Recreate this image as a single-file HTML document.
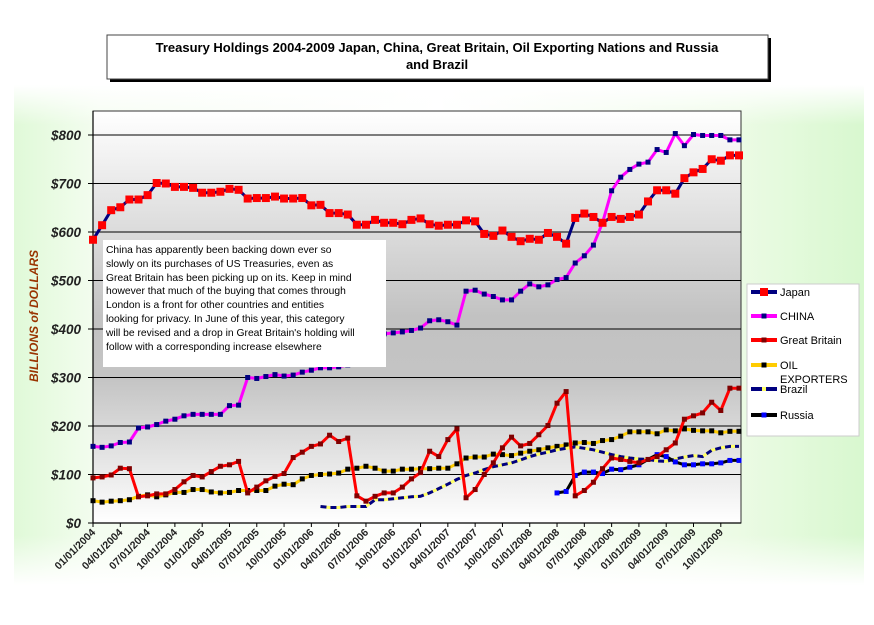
<!DOCTYPE html>
<html><head><meta charset="utf-8"><style>
html,body{margin:0;padding:0;background:#fff;}
body{width:874px;height:620px;overflow:hidden;font-family:"Liberation Sans",Arial,sans-serif;}
</style></head><body>
<svg id="chart" width="874" height="620" xmlns="http://www.w3.org/2000/svg" font-family="Liberation Sans, Arial, sans-serif">
<defs>
<linearGradient id="bgH" x1="0" x2="1" y1="0" y2="0">
<stop offset="0" stop-color="#e0f9d8"/><stop offset="0.1" stop-color="#f4fdf0"/><stop offset="0.5" stop-color="#ffffff"/><stop offset="0.85" stop-color="#ecfbe5"/><stop offset="1" stop-color="#d8f8cf"/>
</linearGradient>
<linearGradient id="bgV" x1="0" x2="0" y1="0" y2="1">
<stop offset="0" stop-color="#fff" stop-opacity="1"/><stop offset="0.08" stop-color="#fff" stop-opacity="0"/><stop offset="0.9" stop-color="#fff" stop-opacity="0"/><stop offset="1" stop-color="#fff" stop-opacity="1"/>
</linearGradient>
<linearGradient id="plotG" x1="0" x2="0" y1="0" y2="1">
<stop offset="0" stop-color="#ffffff"/><stop offset="0.5" stop-color="#c2c2c2"/><stop offset="0.65" stop-color="#c4c4c4"/><stop offset="1" stop-color="#ffffff"/>
</linearGradient>
</defs>
<rect x="14" y="85" width="850" height="500" fill="url(#bgH)"/>
<rect x="14" y="85" width="850" height="500" fill="url(#bgV)"/>
<rect x="110" y="38" width="661" height="44" fill="#000"/>
<rect x="107" y="35" width="661" height="44" fill="#fff" stroke="#444" stroke-width="1"/>
<text x="437" y="52" text-anchor="middle" font-size="13" font-weight="bold">Treasury Holdings 2004-2009  Japan, China, Great Britain, Oil Exporting Nations and Russia</text>
<text x="437" y="69" text-anchor="middle" font-size="13" font-weight="bold">and Brazil</text>
<rect x="93" y="111" width="648" height="412" fill="url(#plotG)" stroke="#333" stroke-width="1"/>
<g id="grid"></g>
<g id="xaxis"></g>
<g id="series"></g>
<text transform="translate(38,316) rotate(-90)" text-anchor="middle" font-size="12" font-weight="bold" font-style="italic" fill="#993300">BILLIONS of DOLLARS</text>
<g>
<rect x="103" y="240" width="283" height="127" fill="#fff"/>
<g font-size="10.3" fill="#000">
<text x="106" y="253">China has apparently been backing down ever so</text>
<text x="106" y="267">slowly on its purchases of US Treasuries, even as</text>
<text x="106" y="281">Great Britain has been picking up on its. Keep in mind</text>
<text x="106" y="294">however that much of the buying that comes through</text>
<text x="106" y="308">London is a front for other countries and entities</text>
<text x="106" y="322">looking for privacy. In June of this year, this category</text>
<text x="106" y="336">will be revised and a drop in Great Britain's holding will</text>
<text x="106" y="350">follow with a corresponding increase elsewhere</text>
</g></g>
<g>
<rect x="747" y="284" width="112" height="152" fill="#fff" stroke="#ccc"/>
<g id="legend" font-size="11"></g>
</g>
</svg>
<script>
const months = 72;
const yTicks = [0,100,200,300,400,500,600,700,800];
const xLabels = ["01/01/2004","04/01/2004","07/01/2004","10/01/2004","01/01/2005","04/01/2005","07/01/2005","10/01/2005","01/01/2006","04/01/2006","07/01/2006","10/01/2006","01/01/2007","04/01/2007","07/01/2007","10/01/2007","01/01/2008","04/01/2008","07/01/2008","10/01/2008","01/01/2009","04/01/2009","07/01/2009","10/01/2009"];
const japan = [584,614,645,651,667,667,676,701,700,693,693,691,681,681,683,689,687,669,670,670,673,669,669,670,655,656,639,639,636,615,615,625,619,619,616,625,628,616,613,615,615,624,622,596,592,603,590,581,586,584,598,590,576,629,638,631,619,631,627,631,636,663,686,686,679,711,723,730,750,747,758,758];
const china = [158,156,159,166,167,196,198,203,210,214,221,224,224,224,224,242,243,300,298,302,306,303,305,311,315,320,320,322,326,336,347,362,390,392,394,397,402,417,419,415,408,478,480,472,467,460,460,478,493,487,491,502,506,536,551,573,619,685,713,729,740,744,770,764,803,778,801,799,799,799,790,790];
const britain = [93,95,99,113,112,54,56,60,60,69,85,98,95,106,117,120,127,62,74,87,96,102,135,146,158,163,181,168,175,56,45,55,62,62,74,91,104,148,137,172,194,52,69,100,124,155,177,159,164,182,201,247,271,56,67,84,112,134,131,127,124,131,137,151,165,214,221,227,249,232,278,278];
const oil = [46,43,45,46,48,55,58,54,58,63,63,69,69,64,62,63,67,67,67,67,76,80,79,91,98,100,101,103,111,113,117,113,107,107,111,111,112,112,113,113,122,134,136,136,142,141,139,144,148,151,155,158,161,165,166,164,170,172,179,188,188,188,184,192,190,194,191,190,190,186,189,189];
const brazilStart = 25;
const brazil = [34,32,32,34,34,34,48,48,50,52,54,55,62,71,80,90,98,103,110,116,120,124,130,137,142,146,151,154,157,154,151,146,141,137,134,132,131,128,127,132,136,139,137,150,155,158,158];
const russiaStart = 51;
const russia = [62,65,98,105,105,102,111,110,115,120,131,141,137,126,120,120,122,122,124,129,129];

const NS="http://www.w3.org/2000/svg";
const X0=93, X1=741, Y0=523, YT=135;
const xs = i => X0 + (X1-2-X0)*i/(months-1);
const ys = v => Y0 - (Y0-YT)*v/800;
function mk(tag, attrs, parent){const e=document.createElementNS(NS,tag);for(const k in attrs)e.setAttribute(k,attrs[k]);parent.appendChild(e);return e;}
const grid=document.getElementById('grid'), xa=document.getElementById('xaxis'), ser=document.getElementById('series'), leg=document.getElementById('legend');

yTicks.forEach(v=>{
  const y=ys(v);
  if(v>0){const l=mk('line',{x1:X0,x2:X1,y1:y,y2:y,stroke:'#000','stroke-width':1},grid);
  
  }
  mk('line',{x1:X0-5,x2:X0,y1:y,y2:y,stroke:'#000'},grid);
  const t=mk('text',{x:81,y:y+5,'text-anchor':'end','font-size':13.5,'font-weight':'bold','font-style':'italic',fill:'#222'},grid);
  t.textContent='$'+v;
  
  
});
mk('line',{x1:X0,x2:X0,y1:111,y2:Y0,stroke:'#000','stroke-width':1.2},grid);
mk('line',{x1:X0,x2:X1,y1:Y0,y2:Y0,stroke:'#000','stroke-width':1.2},grid);
xLabels.forEach((lab,k)=>{
  const x=xs(k*3);
  mk('line',{x1:x,x2:x,y1:Y0,y2:Y0+4,stroke:'#000'},xa);
  const t=mk('text',{transform:`translate(${x+3},${Y0+10}) rotate(-45)`,'text-anchor':'end','font-size':10.5,'font-weight':'bold',fill:'#222'},xa);
  t.textContent=lab;
  
  
});

function pts(arr,start){return arr.map((v,i)=>xs(i+start).toFixed(1)+','+ys(v).toFixed(1)).join(' ');}
function series(name,arr,start,line,marker,msize,dash){
  const g=mk('g',{},ser);
  
  
  if(dash){
    mk('polyline',{points:pts(arr,start),fill:'none',stroke:'#ffff66','stroke-width':3},g);
    mk('polyline',{points:pts(arr,start),fill:'none',stroke:'#000080','stroke-width':3,'stroke-dasharray':'6,4'},g);
  } else mk('polyline',{points:pts(arr,start),fill:'none',stroke:line,'stroke-width':3,'stroke-linejoin':'round'},g);
  if(marker) arr.forEach((v,i)=>{
    const r=mk('rect',{x:xs(i+start)-msize/2,y:ys(v)-msize/2,width:msize,height:msize,fill:marker},g);
    
    
  });
}
series('oil-exporters',oil,0,'#ffcc00','#000',5);
series('brazil',brazil,brazilStart,null,null,0,true);
series('russia',russia,russiaStart,'#000','#0000ff',5);
series('great-britain',britain,0,'#ff0000','#800000',5);
series('china',china,0,'#ff00ff','#000080',5);
series('japan',japan,0,'#000080','#ff0000',8);

const legItems=[["Japan",'#000080','#ff0000',8,292],["CHINA",'#ff00ff','#000080',5,316],["Great Britain",'#ff0000','#800000',5,340],["OIL",'#ffcc00','#000',5,365],["Brazil",'#000080','#ffff66',4,389],["Russia",'#000','#0000ff',5,415]];
legItems.forEach(([n,c,m,s,y])=>{
  const g=mk('g',{},leg);
  
  
  mk('line',{x1:751,x2:777,y1:y,y2:y,stroke:c,'stroke-width':4},g);
  mk('rect',{x:764-s/2,y:y-s/2,width:s,height:s,fill:m},g);
  const t=mk('text',{x:780,y:y+4},g);t.textContent=n;
  if(n==='OIL'){const t2=mk('text',{x:780,y:y+18},g);t2.textContent='EXPORTERS';}
});
</script>
</body></html>
